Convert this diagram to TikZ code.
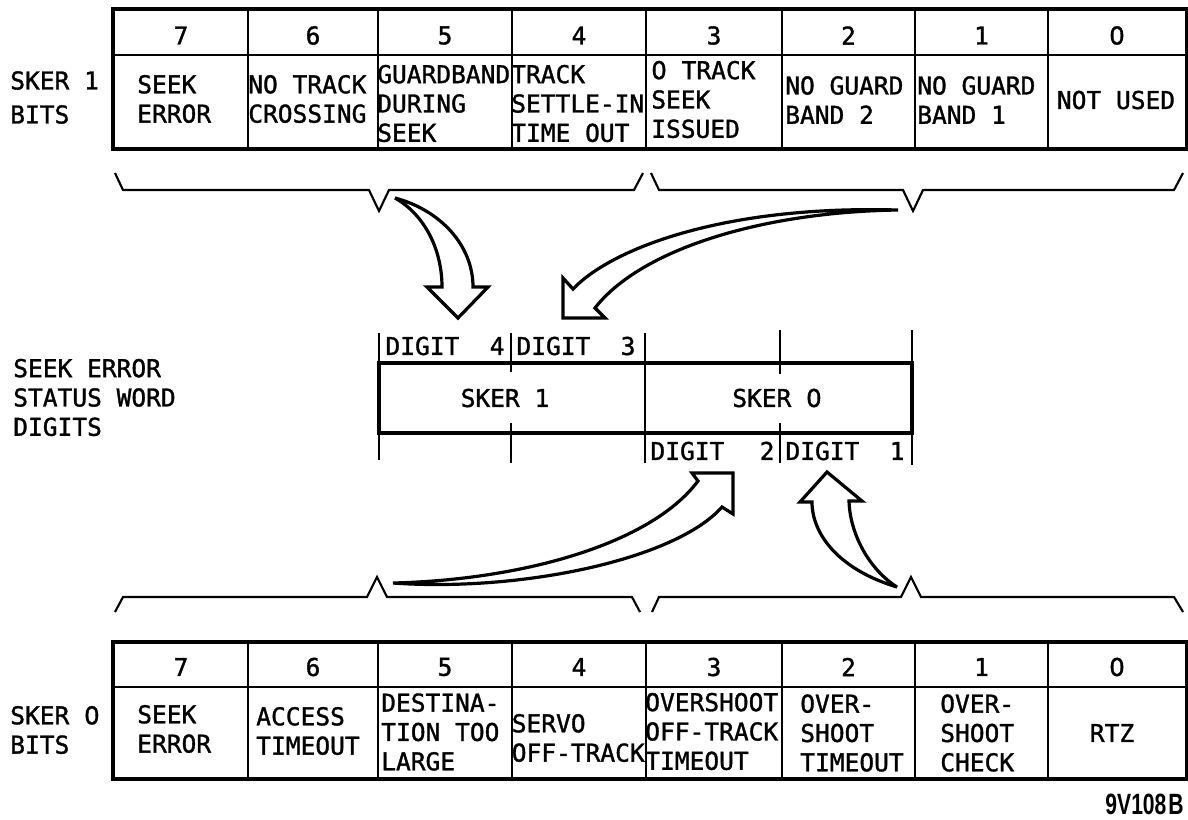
\documentclass[tikz,border=0pt]{standalone}
\usepackage{fontspec}
\setmainfont{DejaVu Sans Mono}[FakeBold=1.3]
\newfontfamily\zerofont{DejaVu Sans}[FakeBold=1.3]
\newfontfamily\tagfont[FakeStretch=0.72]{Liberation Sans}
\newcommand\zer{{\zerofont 0}}
\newcommand\mkcell[5]{\node[cellbox, minimum width={(#4-#2)*0.75pt}, minimum height={(#5-#3)*0.75pt}] (#1) at (#2,#3) {};}
\begin{document}
\begin{tikzpicture}[x=0.75pt,y=-0.75pt,
  txt/.style={font=\fontsize{18.4}{22}\selectfont, inner sep=0pt, align=left},
  cellbox/.style={draw, line width=1.5pt, inner sep=0pt, anchor=north west},
  frame/.style={draw, line width=2.4pt},
  thinline/.style={line width=1.5pt},
  bracesty/.style={line width=1.6pt, line join=miter},
  blockarrow/.style={draw, fill=white, line width=2.4pt, line join=miter, miter limit=6},
]
\fill[white] (0,0) rectangle (1188,819);
\useasboundingbox (0,0) rectangle (1188,819);

% ---------------- tables ----------------
\foreach \n/\a/\b/\lab in {7/113/247/7, 6/247/377/6, 5/377/511/5, 4/511/645/4, 3/645/781/3, 2/781/914/2, 1/914/1047/1, 0/1047/1185/\zer}{
  \mkcell{th\n}{\a}{9}{\b}{54}
  \mkcell{tb\n}{\a}{54}{\b}{147}
  \node[txt] (thn\n) at ([yshift=-2.25pt]th\n.center) {\lab};
  \mkcell{bh\n}{\a}{642}{\b}{686}
  \mkcell{bb\n}{\a}{686}{\b}{777}
  \node[txt] (bhn\n) at ([yshift=-1.5pt]bh\n.center) {\lab};
}
\draw[frame] (th7.north west) rectangle (tb0.south east);
\draw[frame] (bh7.north west) rectangle (bb0.south east);

% top body texts
\node[txt, anchor=west] (tt7) at (137,99) {SEEK\\ERROR};
\node[txt, anchor=west] (tt6) at (248,99) {NO TRACK\\CROSSING};
\node[txt, anchor=west] (tt5) at (377,103.5) {GUARDBAND\\DURING\\SEEK};
\node[txt, anchor=west] (tt4) at (511,103.5) {TRACK\\SETTLE-IN\\TIME OUT};
\node[txt, anchor=west] (tt3) at (651,99.5) {\zer{} TRACK\\SEEK\\ISSUED};
\node[txt, anchor=west] (tt2) at (785,100) {NO GUARD\\BAND 2};
\node[txt, anchor=west] (tt1) at (917,100) {NO GUARD\\BAND 1};
\node[txt] (tt0) at (1116,100) {NOT USED};

% bottom body texts
\node[txt, anchor=west] (bt7) at (137,729) {SEEK\\ERROR};
\node[txt, anchor=west] (bt6) at (256,731) {ACCESS\\TIMEOUT};
\node[txt, anchor=west] (bt5) at (381,732) {DESTINA-\\TION TOO\\LARGE};
\node[txt, anchor=west] (bt4) at (511.5,738) {SERVO\\OFF-TRACK};
\node[txt, anchor=west] (bt3) at (645,731.5) {OVERSHOOT\\OFF-TRACK\\TIMEOUT};
\node[txt, anchor=west] (bt2) at (800,733) {OVER-\\SHOOT\\TIMEOUT};
\node[txt, anchor=west] (bt1) at (940,733) {OVER-\\SHOOT\\CHECK};
\node[txt] (bt0) at (1112,733) {RTZ};

% left labels
\node[txt, anchor=west] (lab1) at (10,97.5) {SKER 1\\[3.5pt]BITS};
\node[txt, anchor=west] (labm) at (13,397.5) {SEEK ERROR\\STATUS WORD\\DIGITS};
\node[txt, anchor=west] (lab0) at (10,730) {SKER \zer\\BITS};

% ---------------- middle status word ----------------
\draw[thinline] (379,333) -- (379,460);
\draw[thinline] (645,333) -- (645,463);
\draw[thinline] (912,330) -- (912,465);
\draw[thinline] (511,333) -- (511,372);
\draw[thinline] (511,423) -- (511,463);
\draw[thinline] (780,330) -- (780,374);
\draw[thinline] (780,423) -- (780,463);
\draw[frame] (379,363) rectangle (912,433);
\node[txt] (sk1) at (505,398) {SKER 1};
\node[txt] (sk0) at (777,398) {SKER \zer};
\node[txt] (d4) at (445,346) {\hbox to 89.25pt{DIGIT\hfill 4}};
\node[txt] (d3) at (576,346) {\hbox to 89.25pt{DIGIT\hfill 3}};
\node[txt] (d2) at (712.5,451) {\hbox to 93pt{DIGIT\hfill 2}};
\node[txt] (d1) at (845,451) {\hbox to 89.25pt{DIGIT\hfill 1}};

% ---------------- brackets ----------------
\draw[bracesty] (115,173) -- (123,190) -- (369,190) -- (379,211) -- (389,190) -- (634,190) -- (643,173);
\draw[bracesty] (651,173) -- (659,190) -- (903,190) -- (913,211) -- (923,190) -- (1174,190) -- (1183,173);
\draw[bracesty] (115,612) -- (123,597) -- (367,597) -- (377,577) -- (387,597) -- (632,597) -- (640,612);
\draw[bracesty] (652,612) -- (659,597) -- (901,597) -- (911,577) -- (921,597) -- (1174,597) -- (1183,612);

% ---------------- block arrows ----------------
\draw[blockarrow] (395,198) .. controls (440,210) and (473,245) .. (473,287) -- (488,287) -- (458,318) -- (427,287) -- (442,287) .. controls (442,250) and (425,215) .. (395,198) -- cycle;
\draw[blockarrow] (898,210) .. controls (720,205) and (610,250) .. (573,289) -- (563,278) -- (563,318) -- (605,318) -- (595,308) .. controls (640,250) and (760,212) .. (898,210) -- cycle;
\draw[blockarrow] (393,583) .. controls (520,580) and (650,545) .. (698,481) -- (692,473) -- (733,473) -- (733,514) -- (722,507) .. controls (675,560) and (520,592) .. (393,583) -- cycle;
\draw[blockarrow] (897,587) .. controls (840,570) and (812,535) .. (812,502) -- (800,502) -- (827,472) -- (862,501) -- (849,501) .. controls (850,535) and (870,570) .. (897,587) -- cycle;

% ---------------- figure tag ----------------
\node[inner sep=0pt, anchor=east, font=\tagfont\bfseries\fontsize{22}{24}\selectfont] (tag) at (1184,804) {9V108\kern1.5pt B};
\end{tikzpicture}
\end{document}
